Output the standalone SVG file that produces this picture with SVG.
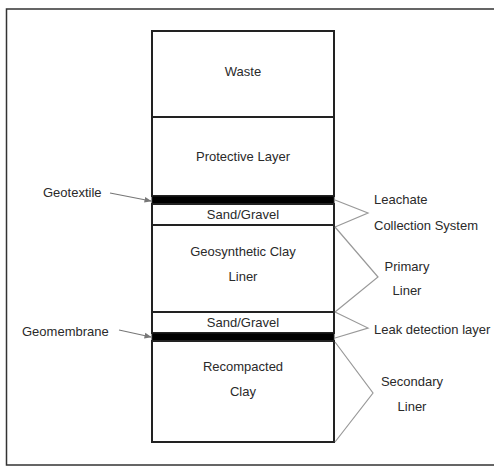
<svg xmlns="http://www.w3.org/2000/svg" width="494" height="468" viewBox="0 0 494 468">
<style>
text{font-family:"Liberation Sans",Arial,sans-serif;font-size:13px;fill:#2a2a2a;}
.c{text-anchor:middle;}
.layer{fill:#fff;stroke:#222;stroke-width:2;}
.bar{fill:#000;stroke:#222;stroke-width:1;}
.br{fill:none;stroke:#999;stroke-width:1.2;}
.ar{fill:none;stroke:#777;stroke-width:1.2;marker-end:url(#ah);}
</style>
<defs>
<marker id="ah" viewBox="0 0 10 10" refX="9" refY="5" markerWidth="6" markerHeight="6" orient="auto">
<path d="M0,1 L10,5 L0,9 z" fill="#777"/>
</marker>
</defs>
<rect x="0" y="0" width="494" height="468" fill="#fff"/>
<rect x="6.5" y="9" width="490" height="456" fill="none" stroke="#333" stroke-width="1.5"/>
<g id="waste"><rect class="layer" x="152" y="31" width="182" height="86"/><text class="c" x="243" y="76">Waste</text></g>
<g id="protective"><rect class="layer" x="152" y="117" width="182" height="79"/><text class="c" x="243" y="161">Protective Layer</text></g>
<g id="geotextile-bar"><rect class="bar" x="152" y="196" width="182" height="8"/></g>
<g id="sand1"><rect class="layer" x="152" y="204" width="182" height="21"/><text class="c" x="243" y="219">Sand/Gravel</text></g>
<g id="gcl"><rect class="layer" x="152" y="225" width="182" height="87"/><text class="c" x="243" y="256">Geosynthetic Clay</text><text class="c" x="243" y="281">Liner</text></g>
<g id="sand2"><rect class="layer" x="152" y="312" width="182" height="21"/><text class="c" x="243" y="327">Sand/Gravel</text></g>
<g id="geomembrane-bar"><rect class="bar" x="152" y="333" width="182" height="8"/></g>
<g id="clay"><rect class="layer" x="152" y="341" width="182" height="101"/><text class="c" x="243" y="371">Recompacted</text><text class="c" x="243" y="396">Clay</text></g>
<g id="geotextile"><text x="43" y="197">Geotextile</text></g>
<g id="geomembrane"><text x="22" y="336">Geomembrane</text></g>
<g id="leachate"><text x="374" y="204">Leachate</text><text x="374" y="230">Collection System</text></g>
<g id="primary"><text class="c" x="407" y="271">Primary</text><text class="c" x="407" y="295">Liner</text></g>
<g id="leak"><text x="374" y="334">Leak detection layer</text></g>
<g id="secondary"><text class="c" x="412" y="386">Secondary</text><text class="c" x="412" y="411">Liner</text></g>
<g id="connectors">
<path class="ar" d="M110,193 L151,201"/>
<path class="ar" d="M119,330 L151,337"/>
<path class="br" d="M335,200 L368,213 L335,227"/>
<path class="br" d="M335,227 L378,277 L335,312"/>
<path class="br" d="M335,312 L368,328 L335,338"/>
<path class="br" d="M335,342 L373,393 L335,442"/>
</g>
</svg>
